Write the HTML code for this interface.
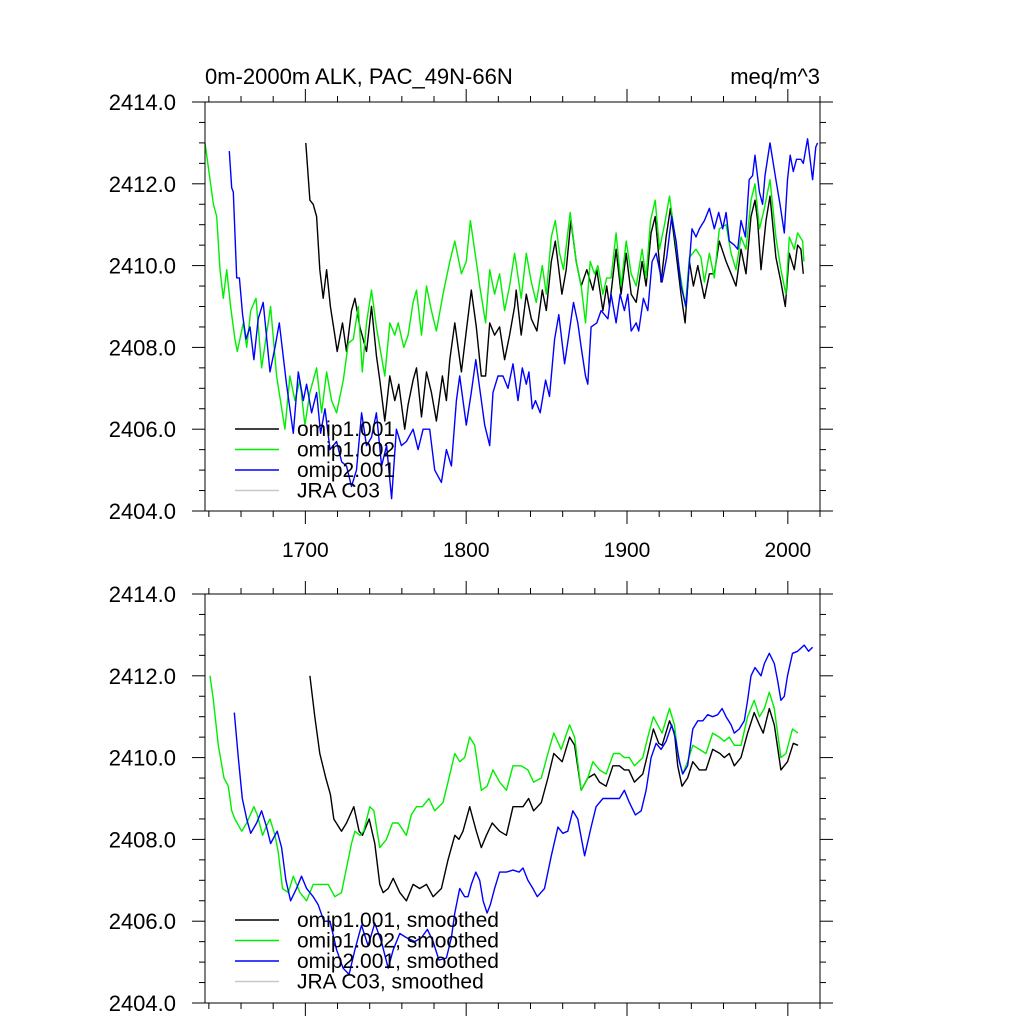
<!DOCTYPE html>
<html><head><meta charset="utf-8"><style>
html,body{margin:0;padding:0;background:#fff;}
svg{display:block;font-family:"Liberation Sans",sans-serif;}
</style></head><body>
<svg id="chart" width="1024" height="1024" viewBox="0 0 1024 1024" xmlns="http://www.w3.org/2000/svg"></svg>
<script>
// ---- data: raw annual series (top panel) ----
const g1Years=[1637.6,1642.8,1644.9,1646.9,1649,1651.1,1653.5,1656.2,1657.7,1661.4,1663.5,1666,1669.3,1672.8,1678.4,1682.1,1687.3,1690.4,1693.5,1696.6,1699.7,1702.8,1707,1710.1,1713.2,1716.3,1719.4,1723.6,1726.7,1729.8,1732.9,1735.4,1738,1741.1,1744.2,1749.4,1752.5,1755.6,1757.7,1761.2,1763.9,1767,1769.1,1772.2,1775.3,1778.4,1781.5,1785.6,1789.8,1792.9,1797,1800.1,1802.6,1806.3,1808.4,1812.1,1814.6,1817.7,1820.8,1823.9,1827,1830.1,1834.2,1837.4,1840.5,1843.6,1847.3,1849.8,1852.9,1855.4,1858.1,1860.5,1864.7,1868.4,1871.5,1874.2,1877.1,1879.8,1881.9,1885,1887.4,1890.1,1893.2,1896.3,1899.5,1902.6,1905.7,1909.4,1911.9,1914.6,1917.5,1920.2,1923.3,1926.4,1929.5,1932.6,1936.3,1938.8,1942.9,1946,1948.1,1951.2,1954.3,1957.4,1961.6,1964.7,1967.8,1970.9,1974,1977.1,1979.6,1982.3,1985.4,1988.9,1992.6,1995.7,1998.8,2000.9,2004,2006.1,2009.2,2010];
const g1Vals=[2413.0,2411.5,2411.2,2409.9,2409.2,2409.9,2409.0,2408.2,2407.9,2408.6,2408.0,2408.9,2409.2,2407.5,2409.0,2407.3,2406.0,2407.3,2406.7,2407.2,2406.1,2406.9,2407.5,2406.4,2407.4,2406.7,2406.4,2407.2,2408.1,2408.2,2409.0,2407.4,2408.6,2409.4,2408.5,2407.3,2408.6,2408.3,2408.6,2408.0,2408.3,2409.1,2409.4,2408.3,2409.5,2408.9,2408.4,2409.3,2410.1,2410.6,2409.8,2410.1,2411.1,2410.1,2409.5,2408.6,2409.9,2409.3,2409.8,2408.9,2409.5,2410.3,2409.2,2410.3,2409.6,2409.1,2410.0,2409.3,2410.7,2411.1,2410.3,2409.9,2411.3,2410.1,2409.5,2408.6,2410.1,2409.8,2410.0,2409.3,2409.7,2409.7,2410.8,2409.5,2410.6,2409.8,2409.5,2410.4,2409.7,2411.1,2411.6,2410.4,2411.0,2411.7,2410.8,2409.9,2409.0,2410.2,2410.4,2410.2,2409.6,2410.3,2409.7,2410.9,2411.0,2410.3,2409.9,2410.7,2410.4,2411.6,2412.0,2410.9,2411.4,2412.1,2410.7,2409.9,2409.3,2410.7,2410.4,2410.8,2410.6,2410.1];
const k1Years=[1700.3,1702.8,1704.9,1707,1709,1711.1,1713.2,1715.6,1718.3,1719.8,1723.1,1725.6,1728.7,1730.8,1733.9,1738,1741.1,1744.2,1746.3,1749.4,1752.5,1755.6,1758.1,1761.8,1763.9,1767,1769.1,1772.2,1775.3,1778.4,1781.5,1785.2,1787.7,1789.8,1792.9,1797,1800.1,1803.2,1806.3,1809.4,1812.1,1814.6,1817.7,1820.8,1823.9,1827,1830.1,1831.1,1834.2,1837.4,1840.5,1844,1847.3,1849.8,1852.9,1855.4,1859.5,1862.2,1865.1,1868.4,1871.5,1875,1878.8,1881.2,1885,1887.4,1889.1,1893.2,1896.3,1899.5,1902.6,1905.7,1909.4,1911.9,1915,1917.5,1921.2,1924.3,1927,1930.5,1933.6,1936.1,1938.8,1941.3,1944,1948.1,1951.2,1954.3,1957.4,1961.6,1964.7,1967.8,1970.9,1974,1977.1,1979.6,1981.2,1983.3,1986.4,1988.9,1992.6,1995.7,1998.4,2000.9,2004,2006.1,2008.1,2009.6];
const k1Vals=[2413.0,2411.6,2411.5,2411.2,2409.9,2409.2,2409.9,2409.0,2408.3,2407.9,2408.6,2407.9,2408.9,2409.2,2408.5,2407.9,2409.0,2407.8,2407.2,2406.2,2407.3,2406.7,2407.1,2406.0,2406.6,2407.2,2407.5,2406.3,2407.4,2406.9,2406.2,2407.3,2406.7,2407.7,2408.6,2407.4,2408.4,2409.4,2408.5,2407.3,2407.3,2408.6,2408.3,2408.5,2407.7,2408.3,2409.0,2409.4,2408.3,2409.3,2408.7,2408.4,2409.4,2408.9,2410.1,2410.6,2409.3,2409.9,2411.1,2410.1,2409.5,2409.9,2409.4,2409.9,2408.9,2409.5,2409.0,2410.4,2409.3,2410.3,2409.3,2409.1,2410.1,2409.5,2410.8,2411.2,2409.6,2410.7,2411.4,2410.3,2409.3,2408.6,2410.1,2409.5,2410.0,2409.2,2409.8,2409.8,2410.6,2410.1,2409.8,2409.5,2410.4,2409.8,2411.2,2411.6,2411.1,2409.9,2411.1,2411.7,2410.2,2409.6,2409.0,2410.3,2409.9,2410.5,2410.4,2409.8];
const b1Years=[1652.7,1654.2,1655.2,1657.3,1659,1661,1663.1,1665.6,1668,1670.7,1673.8,1678,1681.1,1683.8,1688.3,1692.5,1695.6,1698.7,1700.8,1703.9,1707,1709.5,1712.2,1715.3,1719.4,1722.6,1725.6,1728.7,1731.8,1735,1738,1741.1,1744.2,1747.4,1750.5,1753.6,1756.6,1759.7,1762.8,1767,1770.1,1773.2,1777.3,1780.4,1784.6,1787.7,1790.8,1793.9,1796,1800.1,1803.2,1806,1808.4,1811.5,1814.6,1816.7,1819.8,1822.9,1826,1829.1,1832.2,1834.9,1837.4,1839,1841.1,1843.1,1846,1849.4,1851.8,1855,1857.6,1861.2,1863.8,1866.7,1869.4,1871.5,1874.2,1875.6,1877.7,1881.2,1883.9,1886,1888.1,1890.1,1893.2,1895.7,1898.4,1900.5,1902.6,1905.7,1907.3,1910.2,1912.9,1915.6,1918.1,1921.8,1924.7,1927.8,1930.5,1933.6,1936.7,1940.4,1942.9,1945,1948.1,1951.2,1954.3,1957,1959.5,1961.6,1963.6,1966.7,1968.8,1970.9,1973.6,1976,1978.1,1979.6,1982.3,1984.3,1985.8,1988.9,1992.6,1995.1,1997.8,1999.8,2001.5,2003.4,2005.4,2008.1,2009.6,2012.3,2015.4,2017.4,2018.5];
const b1Vals=[2412.8,2411.9,2411.8,2409.7,2409.7,2408.8,2408.2,2408.5,2407.7,2408.7,2409.1,2407.4,2408.0,2408.6,2407.1,2405.9,2407.4,2406.7,2407.1,2406.4,2406.9,2405.9,2406.5,2405.5,2405.7,2405.2,2405.1,2404.6,2405.0,2406.4,2405.6,2405.8,2406.4,2405.1,2405.6,2404.3,2406.0,2405.6,2405.7,2406.0,2405.5,2406.0,2406.0,2405.0,2404.7,2405.5,2405.1,2406.7,2407.3,2406.1,2406.9,2407.7,2407.0,2406.1,2405.6,2406.9,2407.3,2407.3,2407.0,2407.6,2406.7,2407.5,2407.1,2407.4,2406.5,2406.7,2406.4,2407.2,2406.8,2408.2,2408.8,2407.6,2408.3,2409.1,2408.6,2408.0,2407.3,2407.1,2408.5,2408.6,2408.9,2408.8,2408.7,2409.3,2408.6,2409.3,2408.9,2409.3,2408.4,2408.6,2408.4,2409.2,2408.9,2410.1,2410.3,2409.6,2410.2,2411.2,2410.6,2409.5,2409.0,2410.9,2410.7,2410.9,2411.1,2411.4,2410.9,2411.3,2410.9,2411.3,2410.6,2410.5,2410.4,2411.1,2410.7,2412.1,2412.2,2412.7,2411.8,2411.5,2412.2,2413.0,2412.1,2411.5,2410.8,2412.1,2412.7,2412.3,2412.6,2412.6,2412.5,2413.1,2412.1,2412.9,2413.0];
// ---- data: smoothed series (bottom panel) ----
const g2Years=[1640.7,1642.8,1645.9,1649.4,1652.1,1654.2,1656.2,1660.4,1663.5,1668,1670.1,1673.4,1675.5,1678,1681.1,1683.1,1685.8,1689.4,1692.5,1696.6,1700.8,1704.9,1708,1711.1,1714.2,1718.3,1722.5,1725.6,1728.7,1730.8,1733.9,1736.3,1740.1,1742.6,1746.3,1750.4,1754.2,1757.7,1762.8,1765.9,1769.1,1772.8,1776.9,1780.4,1785.6,1788.7,1792.9,1796,1799.1,1802.2,1805.3,1809.4,1813,1816.7,1820.8,1825,1829.1,1832.2,1834.2,1838.4,1841.9,1846.7,1850.8,1854.5,1859.1,1864.3,1867.4,1871.5,1875.6,1878.8,1882.9,1887,1891.6,1895.3,1898.4,1901.5,1904.6,1909.8,1912.9,1916.4,1919.1,1921.8,1926.4,1929.5,1931.5,1934.6,1937.7,1940.9,1945,1949.1,1953.3,1957.4,1960.5,1963.6,1966.7,1970.9,1975,1979.1,1982.3,1985.4,1988.5,1991.6,1995.7,1998.8,2002.9,2006.3];
const g2Vals=[2412.0,2411.4,2410.3,2409.5,2409.3,2408.7,2408.5,2408.2,2408.4,2408.8,2408.6,2408.1,2408.3,2408.5,2408.1,2407.7,2406.8,2406.7,2407.1,2406.7,2406.5,2406.9,2406.9,2406.9,2406.9,2406.6,2406.7,2407.3,2407.9,2408.2,2408.1,2408.2,2408.8,2408.7,2407.8,2408.0,2408.4,2408.4,2408.1,2408.6,2408.8,2408.8,2409.0,2408.7,2408.9,2409.4,2410.1,2409.9,2410.0,2410.5,2410.3,2409.2,2409.3,2409.7,2409.4,2409.2,2409.8,2409.8,2409.8,2409.7,2409.4,2409.5,2410.1,2410.6,2410.2,2410.8,2410.5,2409.2,2409.5,2409.9,2409.7,2409.6,2410.1,2410.1,2410.0,2410.0,2409.8,2410.0,2410.5,2411.0,2410.8,2410.6,2411.2,2410.8,2410.1,2409.6,2409.9,2410.3,2410.2,2410.1,2410.6,2410.5,2410.4,2410.5,2410.3,2410.3,2411.0,2411.4,2411.0,2411.2,2411.6,2411.2,2410.0,2410.1,2410.7,2410.6];
const k2Years=[1702.8,1705.9,1709,1712.7,1715.6,1717.7,1722.5,1725.6,1730.1,1733.4,1735.5,1739.7,1743.2,1746.3,1748.4,1751.5,1754.6,1758.7,1762.8,1767,1771.1,1775.3,1779.4,1784.6,1788.7,1792.9,1795.5,1798,1802.2,1806.3,1809.4,1812.6,1816.2,1820.8,1825,1829.1,1833,1835.3,1838.8,1841.9,1846.7,1850.8,1854.5,1859.7,1864.3,1867.4,1871.5,1875.6,1879.8,1882.9,1887,1891.2,1895.3,1898.4,1901.1,1904.6,1909.8,1912.9,1916.4,1919.7,1921.8,1926.4,1929.5,1931.5,1934.2,1937.7,1940.9,1945,1949.1,1953.3,1957.8,1960.5,1963.6,1966.7,1970.9,1975,1979.1,1982.3,1984.7,1988.5,1991.6,1995.7,1999.8,2003.4,2006.3];
const k2Vals=[2412.0,2411.0,2410.1,2409.5,2409.1,2408.5,2408.2,2408.4,2408.8,2408.2,2408.1,2408.5,2407.9,2406.9,2406.7,2406.8,2407.05,2406.7,2406.5,2406.9,2406.8,2406.9,2406.6,2406.8,2407.5,2408.1,2408.0,2408.2,2408.8,2408.2,2407.8,2408.1,2408.4,2408.2,2408.1,2408.8,2408.8,2408.8,2409.0,2408.7,2408.9,2409.5,2410.1,2409.9,2410.5,2410.3,2409.2,2409.5,2409.6,2409.4,2409.3,2409.8,2409.8,2409.7,2409.7,2409.4,2409.6,2410.1,2410.7,2410.35,2410.3,2410.9,2410.6,2409.8,2409.3,2409.5,2409.9,2409.7,2409.7,2410.2,2410.1,2410.0,2410.1,2409.8,2410.0,2410.6,2411.1,2410.8,2410.6,2411.2,2410.8,2409.7,2409.9,2410.35,2410.3];
const b2Years=[1655.8,1658.3,1660.8,1663.5,1666,1669.7,1672.8,1675.9,1678.4,1682.5,1685.2,1687.9,1690.8,1694.5,1697.6,1700.8,1704.9,1708,1711.5,1715.3,1719.4,1723.5,1727.2,1730.8,1734.9,1739,1743.2,1747.3,1751.5,1754.6,1758.7,1762.8,1768,1772.2,1775.9,1779.4,1783.1,1787.7,1790.8,1792.9,1796,1799.1,1801.1,1803.2,1806,1808.4,1810.5,1813,1815,1817.7,1820.8,1825,1829.1,1832.9,1835.3,1838.4,1841.5,1844.2,1848.7,1852.9,1857,1860.1,1863.2,1866.3,1869.4,1873.6,1877.7,1880.8,1885,1889.1,1892.2,1895.3,1898.4,1901.5,1905.2,1908.8,1911.9,1915,1918.1,1921.2,1924.3,1927.8,1930.5,1932.6,1934.6,1937.7,1940.9,1944,1947.1,1950.2,1953.3,1956.4,1959.1,1961.6,1964.7,1966.7,1969.8,1972.9,1975,1977.1,1979.6,1983.3,1985.4,1988.5,1991.6,1993.6,1995.7,1997.8,1999.8,2002.9,2006.1,2010.2,2012.9,2015.4];
const b2Vals=[2411.1,2410.0,2409.0,2408.5,2408.15,2408.4,2408.7,2408.3,2407.9,2408.2,2407.8,2407.0,2406.5,2406.8,2407.1,2406.8,2406.6,2406.4,2406.0,2406.0,2405.3,2404.85,2404.7,2405.3,2405.9,2405.4,2405.95,2405.5,2404.85,2405.3,2405.7,2405.6,2405.5,2405.6,2405.8,2405.5,2405.05,2405.1,2405.6,2406.2,2406.8,2406.6,2406.6,2406.9,2407.2,2407.0,2406.5,2406.2,2406.4,2406.8,2407.2,2407.2,2407.25,2407.2,2407.3,2407.0,2406.8,2406.6,2406.8,2407.6,2408.3,2408.15,2408.2,2408.7,2408.5,2407.6,2408.3,2408.8,2409.0,2409.0,2409.0,2409.0,2409.2,2408.9,2408.6,2408.7,2409.2,2410.0,2410.35,2410.2,2410.4,2410.8,2410.4,2409.9,2409.6,2409.8,2410.7,2410.9,2410.9,2411.05,2411.0,2411.05,2411.2,2411.0,2410.8,2410.6,2410.7,2410.9,2411.4,2412.0,2412.2,2412.0,2412.3,2412.55,2412.3,2411.9,2411.4,2411.5,2412.0,2412.55,2412.6,2412.75,2412.6,2412.7];
const yTicks=[2404,2406,2408,2410,2412,2414];
const yTickLabels=["2404.0","2406.0","2408.0","2410.0","2412.0","2414.0"];
const xTicks=[1700,1800,1900,2000];
const xTickLabels=["1700","1800","1900","2000"];
const legend1=["omip1.001","omip1.002","omip2.001","JRA C03"];
const legend2=["omip1.001, smoothed","omip1.002, smoothed","omip2.001, smoothed","JRA C03, smoothed"];

const NS="http://www.w3.org/2000/svg";
const svg=document.getElementById('chart');
const X0=205,X1=820,YR0=1637.6,YR1=2020;
const VMIN=2404,VMAX=2414;
function xs(yr){return X0+(yr-YR0)/(YR1-YR0)*(X1-X0);}
function mk(tag,attrs,parent){const e=document.createElementNS(NS,tag);for(const k in attrs)e.setAttribute(k,attrs[k]);(parent||svg).appendChild(e);return e;}
const colors=["#000000","#00ee00","#0000ff","#c8c8c8"];

function panel(top,bottom,series,labels,showX,legY,name){
  const g=mk('g',{});
  
  
  const ys=v=>bottom-(v-VMIN)/(VMAX-VMIN)*(bottom-top);
  const cid='clip-'+name;
  const cp=mk('clipPath',{id:cid},g);
  mk('rect',{x:X0,y:top,width:X1-X0,height:bottom-top},cp);
  series.forEach((s,i)=>{
    let d='';
    for(let j=0;j<s[0].length;j++){d+=(j?'L':'M')+xs(s[0][j]).toFixed(1)+','+ys(s[1][j]).toFixed(1);}
    const p=mk('path',{d:d,fill:'none',stroke:colors[i],'stroke-width':1.4,'stroke-linejoin':'round','clip-path':'url(#'+cid+')'},g);
    
    
  });
  const fr=mk('rect',{x:X0,y:top,width:X1-X0,height:bottom-top,fill:'none',stroke:'#000','stroke-width':1},g);
  
  
  for(let v=VMIN;v<=VMAX+0.001;v+=0.5){
    const y=ys(v);const major=Math.abs(v/2-Math.round(v/2))<0.001;
    const L=major?13:6;
    mk('line',{x1:X0-L,y1:y,x2:X0,y2:y,stroke:'#000','stroke-width':1},g);
    mk('line',{x1:X1,y1:y,x2:X1+L,y2:y,stroke:'#000','stroke-width':1},g);
  }
  yTicks.forEach((v,i)=>{
    const t=mk('text',{x:176,y:ys(v)+8,'text-anchor':'end','font-size':22},g);
    t.textContent=yTickLabels[i];
    
    
  });
  for(let yr=1640;yr<=2020;yr+=20){
    const x=xs(yr);const major=yr%100===0;const L=major?13:6;
    mk('line',{x1:x,y1:top-L,x2:x,y2:top,stroke:'#000','stroke-width':1},g);
    mk('line',{x1:x,y1:bottom,x2:x,y2:bottom+L,stroke:'#000','stroke-width':1},g);
  }
  if(showX){xTicks.forEach((yr,i)=>{
    const t=mk('text',{x:xs(yr),y:bottom+46,'text-anchor':'middle','font-size':21},g);
    t.textContent=xTickLabels[i];
    
    
  });}
  labels.forEach((lab,i)=>{
    const y=legY+i*20.5;
    const ln=mk('line',{x1:235,y1:y,x2:279,y2:y,stroke:colors[i],'stroke-width':1.5},g);
    
    
    const t=mk('text',{x:297,y:y+7,'font-size':21},g);
    t.textContent=lab;
    
    
  });
}
panel(102,511,[[k1Years,k1Vals],[g1Years,g1Vals],[b1Years,b1Vals]],legend1,true,429,'top-panel');
panel(594,1003,[[k2Years,k2Vals],[g2Years,g2Vals],[b2Years,b2Vals]],legend2,false,920,'bottom-panel');
const t1=mk('text',{x:205,y:84,'font-size':22});
t1.textContent='0m-2000m ALK, PAC_49N-66N';


const t2=mk('text',{x:820,y:84,'font-size':22,'text-anchor':'end'});
t2.textContent='meq/m^3';


</script>
</body></html>
